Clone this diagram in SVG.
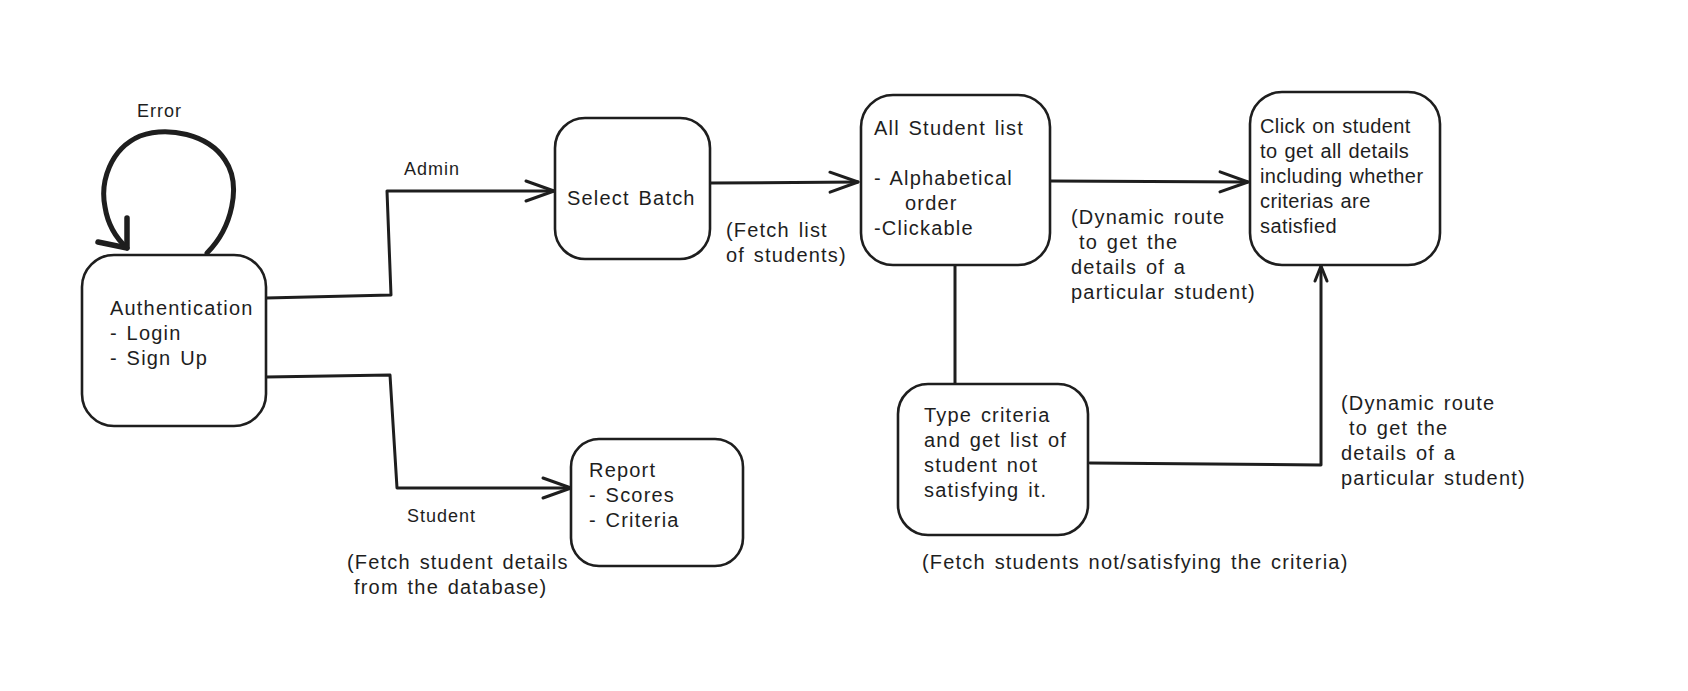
<svg xmlns="http://www.w3.org/2000/svg" width="1688" height="691" viewBox="0 0 1688 691">
<style>
.box{fill:#ffffff;stroke:#1e1e1e;stroke-width:2.6}
.ln{fill:none;stroke:#1e1e1e;stroke-width:3;stroke-linecap:round;stroke-linejoin:round}
.t{font-family:"Liberation Sans",Arial,sans-serif;font-size:20px;fill:#1e1e1e;letter-spacing:1.2px;word-spacing:2px}
.n{letter-spacing:0.4px;word-spacing:1px}
.s{font-family:"Liberation Sans",Arial,sans-serif;font-size:18px;fill:#1e1e1e;letter-spacing:1px}
</style>
<defs>
<marker id="arr" viewBox="-31 -13 34 26" refX="0" refY="0" markerWidth="34" markerHeight="26" markerUnits="userSpaceOnUse" orient="auto">
<path d="M-28,-10 L0,0 L-28,10" fill="none" stroke="#1e1e1e" stroke-width="3" stroke-linecap="round" stroke-linejoin="round"/>
</marker>
<marker id="arrs" viewBox="-18 -9 21 18" refX="0" refY="0" markerWidth="21" markerHeight="18" markerUnits="userSpaceOnUse" orient="auto">
<path d="M-15,-6 L0,0 L-15,6" fill="none" stroke="#1e1e1e" stroke-width="3" stroke-linecap="round" stroke-linejoin="round"/>
</marker>
</defs>
<rect width="1688" height="691" fill="#ffffff"/>

<g id="connectors">
<path class="ln" style="stroke-width:5" d="M207,253 C232,228 242,185 225,160 C208,134 168,126 140,136 C110,149 100,182 105,207 C108,226 116,238 127,248"/>
<path class="ln" style="stroke-width:5.5" d="M127,218 L127,248 L98,242"/>
<path class="ln" marker-end="url(#arr)" d="M266,298 L391,295 L387,191 L554,191"/>
<path class="ln" marker-end="url(#arr)" d="M266,377 L390,375 L397,488 L571,488"/>
<path class="ln" marker-end="url(#arr)" d="M711,183 L858,182"/>
<path class="ln" marker-end="url(#arr)" d="M1051,181 L1248,182"/>
<path class="ln" d="M955,265 L955,384"/>
<path class="ln" marker-end="url(#arrs)" d="M1090,463 L1321,465 L1321,266"/>
</g>

<g id="labels">
<text class="s" x="137" y="117">Error</text>
<text class="s" x="404" y="175">Admin</text>
<text class="s" x="407" y="522">Student</text>
<text class="t" x="347" y="569">(Fetch student details</text>
<text class="t" x="354" y="594">from the database)</text>
<text class="t" x="726" y="237">(Fetch list</text>
<text class="t" x="726" y="262">of students)</text>
<text class="t" x="1071" y="224">(Dynamic route</text>
<text class="t" x="1079" y="249">to get the</text>
<text class="t" x="1071" y="274">details of a</text>
<text class="t" x="1071" y="299">particular student)</text>
<text class="t" x="1341" y="410">(Dynamic route</text>
<text class="t" x="1349" y="435">to get the</text>
<text class="t" x="1341" y="460">details of a</text>
<text class="t" x="1341" y="485">particular student)</text>
<text class="t" x="922" y="569">(Fetch students not/satisfying the criteria)</text>
</g>

<g id="auth">
<rect class="box" x="82" y="255" width="184" height="171" rx="32"/>
<text class="t" x="110" y="315">Authentication</text>
<text class="t" x="110" y="340">- Login</text>
<text class="t" x="110" y="365">- Sign Up</text>
</g>

<g id="select-batch">
<rect class="box" x="555" y="118" width="155" height="141" rx="30"/>
<text class="t" x="567" y="205">Select Batch</text>
</g>

<g id="report">
<rect class="box" x="571" y="439" width="172" height="127" rx="28"/>
<text class="t" x="589" y="477">Report</text>
<text class="t" x="589" y="502">- Scores</text>
<text class="t" x="589" y="527">- Criteria</text>
</g>

<g id="all-student">
<rect class="box" x="861" y="95" width="189" height="170" rx="32"/>
<text class="t" x="874" y="135">All Student list</text>
<text class="t" x="874" y="185">- Alphabetical</text>
<text class="t" x="905" y="210">order</text>
<text class="t" x="874" y="235">-Clickable</text>
</g>

<g id="click-student">
<rect class="box" x="1250" y="92" width="190" height="173" rx="32"/>
<text class="t n" x="1260" y="133">Click on student</text>
<text class="t n" x="1260" y="158">to get all details</text>
<text class="t n" x="1260" y="183">including whether</text>
<text class="t n" x="1260" y="208">criterias are</text>
<text class="t n" x="1260" y="233">satisfied</text>
</g>

<g id="type-criteria">
<rect class="box" x="898" y="384" width="190" height="151" rx="30"/>
<text class="t" x="924" y="422">Type criteria</text>
<text class="t" x="924" y="447">and get list of</text>
<text class="t" x="924" y="472">student not</text>
<text class="t" x="924" y="497">satisfying it.</text>
</g>
</svg>
